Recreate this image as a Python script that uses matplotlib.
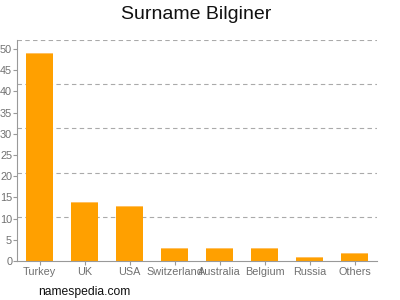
import numpy as np
import matplotlib
matplotlib.use('Agg')
from matplotlib import pyplot as plt

plt.rcParams['font.family'] = ['Liberation Sans', 'DejaVu Sans']

# data
countries = ['Turkey', 'UK', 'USA', 'Switzerland', 'Australia', 'Belgium', 'Russia', 'Others']
counts = [49, 14, 13, 3, 3, 3, 1, 2]
y_ticks = [0, 5, 10, 15, 20, 25, 30, 35, 40, 45, 50]

ymax = 52.1
x = np.arange(len(countries))

fig = plt.figure(figsize=(4, 3), dpi=100)
ax = fig.add_axes([0.0425, 0.13, 0.9, 0.7367])

# dashed grid splitting the range in five
for k in range(1, 6):
    ax.axhline(ymax * k / 5, color='#aaaaaa', lw=0.8, ls=(0, (4, 3)), zorder=0)

ax.bar(x, counts, width=0.62, color='#ffa000', zorder=2)
ax.bar(x, [0.25] * len(counts), bottom=np.array(counts) - 0.25, width=0.62,
       color='#ffc060', zorder=3)  # light top edge

ax.set_xlim(-0.5, len(countries) - 0.5)
ax.set_ylim(0, ymax)
ax.set_xticks(x)
ax.set_xticklabels(countries)
ax.set_yticks(y_ticks)

for s in ['top', 'right']:
    ax.spines[s].set_visible(False)
for s in ['left', 'bottom']:
    ax.spines[s].set_color('#999999')
    ax.spines[s].set_linewidth(0.8)
ax.tick_params(colors='#999999', length=3, width=0.8, labelsize=7.8)
ax.tick_params(axis='y', pad=0.5)
ax.tick_params(axis='x', pad=1.5)
for lbl in ax.get_xticklabels() + ax.get_yticklabels():
    lbl.set_color('#707070')

fig.text(0.49, 0.953, 'Surname Bilginer', ha='center', va='center', fontsize=14, color='#111111')
fig.text(0.095, 0.028, 'namespedia.com', ha='left', va='center', fontsize=8.7, color='#111111')

fig.savefig('out.png', dpi=100)
